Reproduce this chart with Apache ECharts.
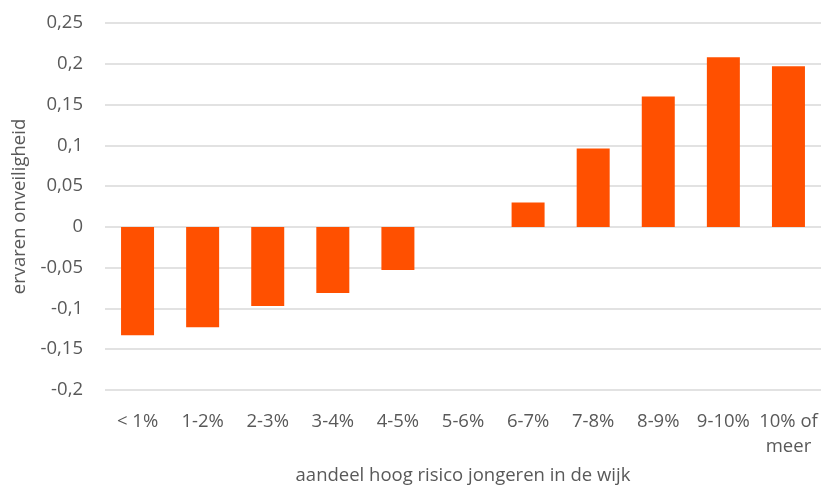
<!DOCTYPE html>
<html><head><meta charset="utf-8">
<script src="https://cdn.jsdelivr.net/npm/echarts@6/dist/echarts.min.js"></script>
<style>html,body{margin:0;padding:0;background:#fff}#c{width:821px;height:489px}</style>
</head><body><div id="c"></div>
<script>
const categories = ['< 1%', '1-2%', '2-3%', '3-4%', '4-5%', '5-6%', '6-7%', '7-8%', '8-9%', '9-10%', '10% of\nmeer'];
const values = [-0.133, -0.123, -0.097, -0.081, -0.053, 0, 0.030, 0.096, 0.160, 0.208, 0.197];
const xName = 'aandeel hoog risico jongeren in de wijk';
const yName = 'ervaren onveiligheid';
const fmt = v => String(Math.round(v * 100) / 100).replace('.', ',');
const font = 'Open Sans';
const chart = echarts.init(document.getElementById('c'));
chart.setOption({
  animation: false,
  grid: { left: 105, right: 0, top: 23, bottom: 99, outerBoundsMode: 'none', containLabel: false },
  xAxis: {
    type: 'category', data: categories, position: 'bottom',
    axisLine: { show: false }, axisTick: { show: false },
    axisLabel: { interval: 0, color: '#595959', fontFamily: font, fontSize: 18.5, margin: 19, lineHeight: 25 },
    name: xName, nameLocation: 'middle', nameGap: 76,
    nameTextStyle: { color: '#595959', fontFamily: font, fontSize: 18.5 }
  },
  yAxis: {
    type: 'value', min: -0.2, max: 0.25, interval: 0.05,
    axisLine: { show: false }, axisTick: { show: false },
    axisLabel: { color: '#595959', fontFamily: font, fontSize: 18.5, margin: 22, formatter: fmt },
    splitLine: { lineStyle: { color: '#d9d9d9', width: 1.5 } },
    name: yName, nameLocation: 'middle', nameGap: 74, nameRotate: 90,
    nameTextStyle: { color: '#595959', fontFamily: font, fontSize: 18.5 }
  },
  series: [{
    type: 'bar', data: values, barWidth: 33,
    itemStyle: { color: '#FF5000' }
  }]
});
</script></body></html>
